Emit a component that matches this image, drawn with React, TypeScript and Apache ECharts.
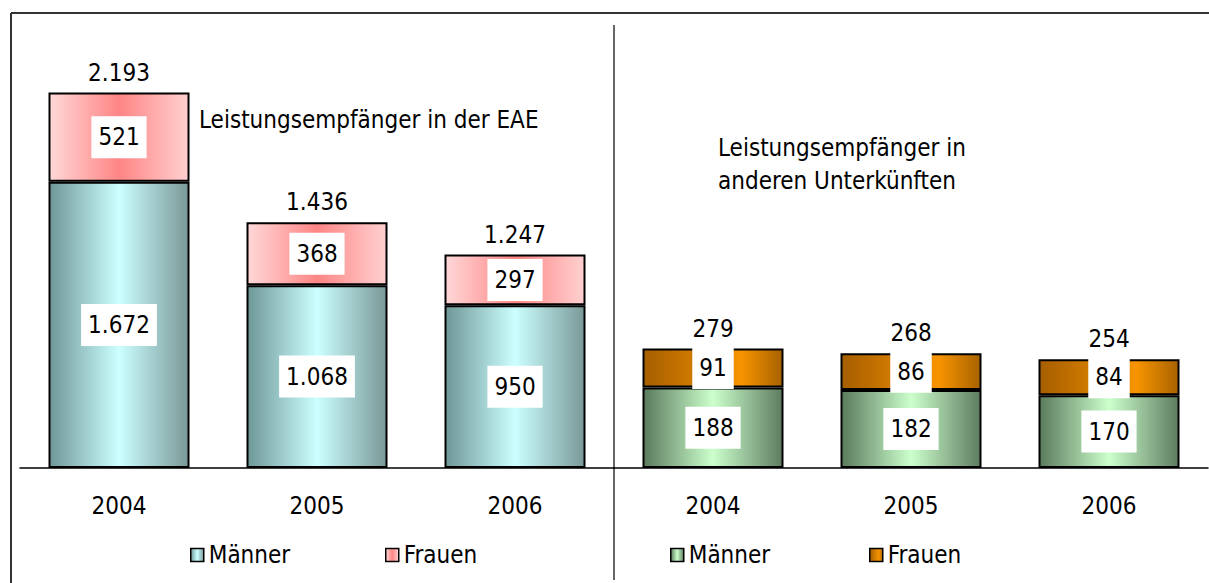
import React, { useEffect, useRef } from "react";
import * as echarts from "echarts";

const years = ["2004", "2005", "2006"];
const eaeMaenner = [1672, 1068, 950];
const eaeFrauen = [521, 368, 297];
const eaeTotal = [2193, 1436, 1247];
const andMaenner = [188, 182, 170];
const andFrauen = [91, 86, 84];
const andTotal = [279, 268, 254];

const FONT = "'DejaVu Sans Condensed', 'DejaVu Sans'";
const FS = 24;

const fmt = (v: number) => String(v).replace(/\B(?=(\d{3})+(?!\d))/g, ".");

const grad = (edgeL: string, mid: string, edgeR: string, pos = 0.5) =>
  new echarts.graphic.LinearGradient(0, 0, 1, 0, [
    { offset: 0, color: edgeL },
    { offset: pos, color: mid },
    { offset: 1, color: edgeR },
  ]);

export default function App() {
  const ref = useRef<HTMLDivElement>(null);
  useEffect(() => {
    document.body.style.margin = "0";
    if (!ref.current) return;
    const chart = echarts.init(ref.current, undefined, { renderer: "svg" });

    const cMaennerL = grad("#6f9797", "#ccffff", "#7a9898");
    const cFrauenL = grad("#ffd8d8", "#ff8585", "#ffd0d0");
    const cMaennerR = grad("#5a7a5c", "#ccffcc", "#5e7c60");
    const cFrauenR = grad("#a65e00", "#f79400", "#a86200", 0.7);

    const inLabel = {
      show: true,
      position: "inside",
      formatter: (p: any) => fmt(p.value),
      backgroundColor: "#ffffff",
      padding: [10, 7, 8, 7],
      color: "#000",
      fontSize: FS,
      fontFamily: FONT,
    };
    const totLabel = {
      show: true,
      position: "top",
      distance: 8,
      formatter: (p: any) => fmt(p.value),
      color: "#000",
      fontSize: FS,
      fontFamily: FONT,
    };
    const barBase = {
      type: "bar",
      barWidth: 141,
      itemStyle: { borderColor: "#000", borderWidth: 2 },
    };

    const legendItem = (left: number, name: string, color: any) => ({
      left,
      top: 543,
      padding: 0,
      itemWidth: 13,
      itemHeight: 13,
      icon: "rect",
      selectedMode: false,
      data: [{ name, itemStyle: { color, borderColor: "#000", borderWidth: 1.5 } }],
      textStyle: { fontSize: FS, fontFamily: FONT, color: "#000" },
    });

    chart.setOption({
      animation: false,
      textStyle: { fontFamily: FONT },
      grid: [
        { left: 20, right: 595, top: 40, bottom: 115 },
        { left: 614, right: 1, top: 40, bottom: 115 },
      ],
      xAxis: [0, 1].map((i) => ({
        type: "category",
        gridIndex: i,
        data: years,
        axisLine: { lineStyle: { color: "#000", width: 1.5 } },
        axisTick: { show: false },
        axisLabel: { color: "#000", fontSize: FS, fontFamily: FONT, margin: 26 },
      })),
      yAxis: [
        { type: "value", gridIndex: 0, min: 0, max: 2500, show: false },
        { type: "value", gridIndex: 1, min: 0, max: 1000, show: false },
      ],
      legend: [
        legendItem(190, "Männer", cMaennerL),
        legendItem(385, "Frauen", cFrauenL),
        legendItem(670, "Männer", cMaennerR),
        legendItem(869, "Frauen", cFrauenR),
      ],
      series: [
        { ...barBase, name: "Männer", stack: "l", xAxisIndex: 0, yAxisIndex: 0, data: eaeMaenner,
          itemStyle: { ...barBase.itemStyle, color: cMaennerL }, label: inLabel },
        { ...barBase, name: "Frauen", stack: "l", xAxisIndex: 0, yAxisIndex: 0, data: eaeFrauen,
          itemStyle: { ...barBase.itemStyle, color: cFrauenL }, label: inLabel },
        { ...barBase, name: "Männer", stack: "r", xAxisIndex: 1, yAxisIndex: 1, data: andMaenner,
          itemStyle: { ...barBase.itemStyle, color: cMaennerR }, label: inLabel },
        { ...barBase, name: "Frauen", stack: "r", xAxisIndex: 1, yAxisIndex: 1, data: andFrauen,
          itemStyle: { ...barBase.itemStyle, color: cFrauenR }, label: inLabel },
        { type: "scatter", name: "Gesamt EAE", xAxisIndex: 0, yAxisIndex: 0, symbolSize: 0,
          itemStyle: { opacity: 1 }, data: eaeTotal, label: totLabel, silent: true },
        { type: "scatter", name: "Gesamt andere", xAxisIndex: 1, yAxisIndex: 1, symbolSize: 0,
          itemStyle: { opacity: 1 }, data: andTotal, label: totLabel, silent: true },
      ],
      graphic: [
        { type: "line", shape: { x1: 11, y1: 13, x2: 1209, y2: 13 }, style: { stroke: "#333", lineWidth: 2 } },
        { type: "line", shape: { x1: 11, y1: 13, x2: 11, y2: 583 }, style: { stroke: "#333", lineWidth: 2 } },
        { type: "line", shape: { x1: 614, y1: 25, x2: 614, y2: 580 }, style: { stroke: "#333", lineWidth: 1.5 } },
        { type: "text", left: 199, top: 108,
          style: { text: "Leistungsempfänger in der EAE", fontSize: FS, fontFamily: FONT, fill: "#000" } },
        { type: "text", left: 718, top: 131,
          style: { text: "Leistungsempfänger in\nanderen Unterkünften", fontSize: FS, lineHeight: 33, fontFamily: FONT, fill: "#000" } },
      ],
    });
    return () => chart.dispose();
  }, []);
  return <div ref={ref} style={{ width: 1209, height: 583 }} />;
}
